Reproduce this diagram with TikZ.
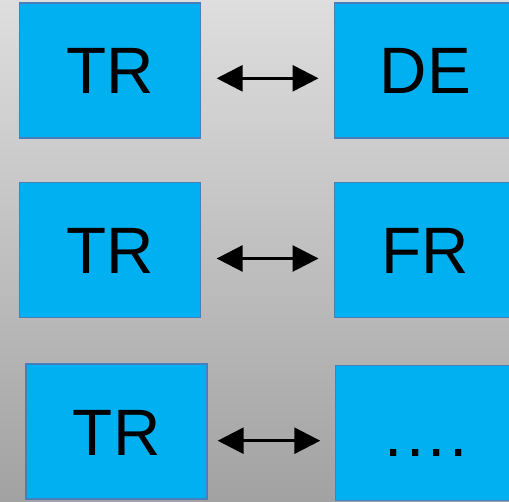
\documentclass[tikz,border=0pt]{standalone}
\usepackage{fontspec}
\setmainfont{Liberation Sans}
\usetikzlibrary{arrows.meta}
\definecolor{bgtop}{RGB}{222,222,222}
\definecolor{bgbot}{RGB}{162,162,162}
\definecolor{boxfill}{RGB}{0,176,240}
\definecolor{boxline}{RGB}{74,126,187}
\tikzset{
  langbox/.style={draw=boxline, line width=1.5pt, fill=boxfill, minimum width=181pt, minimum height=135pt,
    inner sep=0pt, text height=47pt, text depth=0pt, font=\fontsize{65.6}{70}\selectfont},
  dblarrow/.style={line width=2.8pt, {Triangle[length=26pt,width=26pt]}-{Triangle[length=26pt,width=26pt]}}
}
\begin{document}
\begin{tikzpicture}[x=1pt,y=1pt]
\useasboundingbox (0,0) rectangle (509,-501);
\shade[top color=bgtop, bottom color=bgbot] (0,0) rectangle (509,-501);
\node[langbox] (l1) at (110,-70.3) {TR};
\node[langbox] (r1) at (425.2,-70.3) {DE};
\node[langbox] (l2) at (110,-250.2) {TR};
\node[langbox] (r2) at (425.2,-250.2) {FR};
\node[langbox] (l3) at (116.7,-431.7) {TR};
\node[langbox] (r3) at (426.2,-433) {.\kern3.5pt.\kern3.5pt.\kern3.5pt.};
\draw[dblarrow] ([xshift=15.4pt,yshift=-8pt]l1.east) -- ([xshift=-15.4pt,yshift=-8pt]r1.west);
\draw[dblarrow] ([xshift=15.4pt,yshift=-8.3pt]l2.east) -- ([xshift=-15.4pt,yshift=-8.3pt]r2.west);
\draw[dblarrow] ([xshift=9.7pt,yshift=-9pt]l3.east) -- ([xshift=-14.7pt,yshift=-7.7pt]r3.west);
\end{tikzpicture}
\end{document}
